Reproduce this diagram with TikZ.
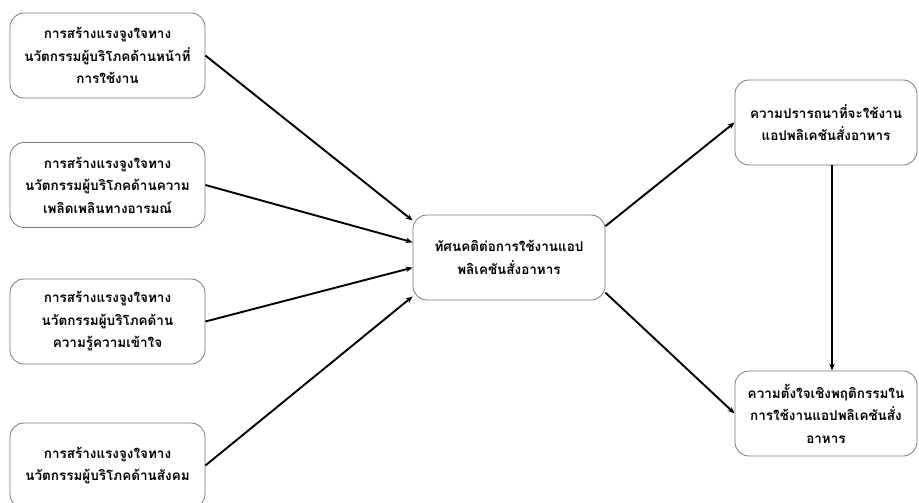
\documentclass[tikz,border=0pt]{standalone}
\usepackage{fontspec}
\newfontfamily\thaifont[Script=Thai]{Loma}
\usepackage{xcolor}
\usetikzlibrary{
  arrows.meta,
  positioning,
  calc
}
\definecolor{boxgray}{HTML}{7A7A7A}

\begin{document}
\begin{tikzpicture}[
  x=1pt, y=-1pt,
  every node/.style={font=\thaifont\bfseries\fontsize{13.5}{22.5}\selectfont},
  fn/.style={rectangle, rounded corners=14pt, minimum width=195pt,
             minimum height=85pt, align=center, draw=boxgray,
             line width=0.8pt, fill=white, inner sep=2pt},
  res/.style={fn, minimum width=182pt},
  arr/.style={-{Stealth[length=7pt, width=5.5pt]}, line width=1.9pt},
]
\useasboundingbox (0,0) rectangle (919,503);

% -- Column 1: motivation factors ----------------
\node[fn] (func)  at (107.5, 55.5) {การสร้างแรงจูงใจทาง\\นวัตกรรมผู้บริโภคด้านหน้าที่\\การใช้งาน};
\node[fn] (emo)   at (107.5, 185)  {การสร้างแรงจูงใจทาง\\นวัตกรรมผู้บริโภคด้านความ\\เพลิดเพลินทางอารมณ์};
\node[fn] (cogn)  at (107.5, 321.5){การสร้างแรงจูงใจทาง\\นวัตกรรมผู้บริโภคด้าน\\ความรู้ความเข้าใจ};
\node[fn] (soc)   at (107.5, 465.5){การสร้างแรงจูงใจทาง\\นวัตกรรมผู้บริโภคด้านสังคม};

% -- Column 2: attitude --------------------------
\node[fn, minimum width=192pt] (att) at (509, 257.5) {ทัศนคติต่อการใช้งานแอป\\พลิเคชันสั่งอาหาร};

% -- Column 3: desire and intention --------------
\node[res] (desire) at (826, 122.5) {ความปรารถนาที่จะใช้งาน\\แอปพลิเคชันสั่งอาหาร};
\node[res] (intent) at (826, 413.5) {ความตั้งใจเชิงพฤติกรรมใน\\การใช้งานแอปพลิเคชันสั่ง\\อาหาร};

% -- Arrows: factors to attitude -----------------
\draw[arr] (func.east) -- (att.159);
\draw[arr] (emo.east)  -- (att.171);
\draw[arr] (cogn.east) -- (att.186);
\draw[arr] (soc.east)  -- (att.202);

% -- Arrows: attitude onwards --------------------
\draw[arr] (att.18)  -- (desire.west);
\draw[arr] (att.340) -- (intent.west);
\draw[arr] ([xshift=6pt]desire.south) -- ([xshift=6pt]intent.north);

\end{tikzpicture}
\end{document}
